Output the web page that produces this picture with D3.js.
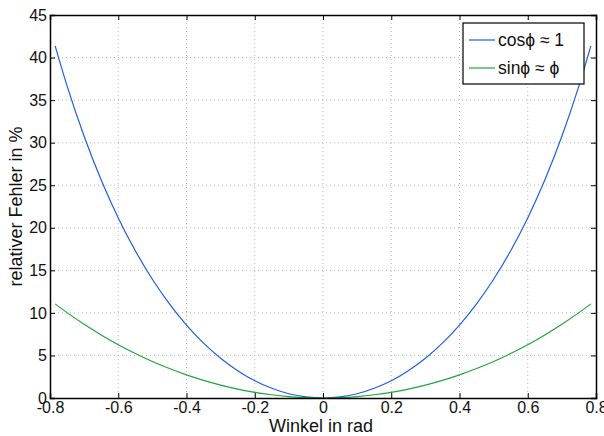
<!DOCTYPE html>
<html>
<head>
<meta charset="utf-8">
<script src="https://cdn.jsdelivr.net/npm/d3@7"></script>
<style>
  html, body { margin: 0; padding: 0; background: #fff; }
  svg { display: block; font-family: "Liberation Sans", Arial, Helvetica, sans-serif; }
</style>
</head>
<body>
<svg id="chart" width="604" height="436"></svg>
<script>
// Angle samples (rad) and relative error in percent for both approximations
const angles = [-0.785, -0.75, -0.7, -0.65, -0.6, -0.55, -0.5, -0.45, -0.4, -0.35, -0.3, -0.25, -0.2, -0.15, -0.1, -0.05, 0,
                 0.05, 0.1, 0.15, 0.2, 0.25, 0.3, 0.35, 0.4, 0.45, 0.5, 0.55, 0.6, 0.65, 0.7, 0.75, 0.785];
const cosError = [41.37, 36.67, 30.75, 25.61, 21.16, 17.30, 13.95, 11.06, 8.57, 6.45, 4.68, 3.21, 2.03, 1.14, 0.50, 0.13, 0,
                  0.13, 0.50, 1.14, 2.03, 3.21, 4.68, 6.45, 8.57, 11.06, 13.95, 17.30, 21.16, 25.61, 30.75, 36.67, 41.37];
const sinError = [11.06, 10.03, 8.66, 7.41, 6.26, 5.23, 4.29, 3.46, 2.72, 2.07, 1.52, 1.05, 0.67, 0.38, 0.17, 0.04, 0,
                  0.04, 0.17, 0.38, 0.67, 1.05, 1.52, 2.07, 2.72, 3.46, 4.29, 5.23, 6.26, 7.41, 8.66, 10.03, 11.06];
const xTicks = [-0.8, -0.6, -0.4, -0.2, 0, 0.2, 0.4, 0.6, 0.8];
const yTicks = [0, 5, 10, 15, 20, 25, 30, 35, 40, 45];
const seriesNames = ["cos\u03d5 \u2248 1", "sin\u03d5 \u2248 \u03d5"];
const seriesColors = ["#1f5fe0", "#1ea63c"];

const svg = d3.select("#chart");
const m = { left: 50, top: 15, right: 596, bottom: 398 };

const x = d3.scaleLinear().domain([-0.8, 0.8]).range([m.left, m.right]);
const y = d3.scaleLinear().domain([0, 45]).range([m.bottom, m.top]);

// dotted grid
const grid = svg.append("g");
grid.selectAll(".gx").data(xTicks.slice(1, -1)).join("line")
  .attr("x1", d => x(d)).attr("x2", d => x(d))
  .attr("y1", m.top).attr("y2", m.bottom)
  .attr("stroke", "#b8b8b8").attr("stroke-width", 1).attr("stroke-dasharray", "1,3");
grid.selectAll(".gy").data(yTicks.slice(1, -1)).join("line")
  .attr("x1", m.left).attr("x2", m.right)
  .attr("y1", d => y(d)).attr("y2", d => y(d))
  .attr("stroke", "#b8b8b8").attr("stroke-width", 1).attr("stroke-dasharray", "1,3");

// curves
const line = d3.line().x(d => x(d[0])).y(d => y(d[1])).curve(d3.curveMonotoneX);
[cosError, sinError].forEach((vals, i) => {
  svg.append("path")
    .datum(angles.map((a, k) => [a, vals[k]]))
    .attr("fill", "none")
    .attr("stroke", seriesColors[i])
    .attr("stroke-width", 1.2)
    .attr("d", line);
});

// axes with inward ticks on all four sides; plain hyphen for negatives
const fmt = d => String(d);
const axB = svg.append("g").attr("transform", `translate(0,${m.bottom})`)
  .call(d3.axisBottom(x).tickValues(xTicks).tickSize(-5).tickPadding(3).tickFormat(fmt));
const axT = svg.append("g").attr("transform", `translate(0,${m.top})`)
  .call(d3.axisTop(x).tickValues(xTicks).tickSize(-5).tickFormat(""));
const axL = svg.append("g").attr("transform", `translate(${m.left},0)`)
  .call(d3.axisLeft(y).tickValues(yTicks).tickSize(-5).tickPadding(3).tickFormat(fmt));
const axR = svg.append("g").attr("transform", `translate(${m.right},0)`)
  .call(d3.axisRight(y).tickValues(yTicks).tickSize(-5).tickFormat(""));
[axB, axT, axL, axR].forEach(g => {
  g.select(".domain").attr("stroke", "#000").attr("stroke-width", 1.5);
  g.selectAll(".tick line").attr("stroke", "#000");
  g.selectAll("text").attr("font-size", 16).attr("fill", "#111")
    .attr("font-family", "'Liberation Sans', Arial, sans-serif");
});
axB.selectAll("text").attr("dy", "0.72em");

// axis titles
svg.append("text").attr("x", (m.left + m.right) / 2 - 2).attr("y", 432)
  .attr("text-anchor", "middle").attr("font-size", 18).attr("fill", "#111")
  .text("Winkel in rad");
svg.append("text")
  .attr("transform", `translate(22,${(m.top + m.bottom) / 2}) rotate(-90)`)
  .attr("text-anchor", "middle").attr("font-size", 18).attr("fill", "#111")
  .text("relativer Fehler in %");

// legend
const lg = svg.append("g");
lg.append("rect").attr("x", 463).attr("y", 23).attr("width", 121).attr("height", 61)
  .attr("fill", "#fff").attr("stroke", "#000").attr("stroke-width", 1.2);
seriesNames.forEach((name, i) => {
  const yy = 40 + i * 28;
  lg.append("line").attr("x1", 469).attr("x2", 495).attr("y1", yy).attr("y2", yy)
    .attr("stroke", seriesColors[i]).attr("stroke-width", 1.2);
  lg.append("text").attr("x", 498).attr("y", yy).attr("dy", "0.36em")
    .attr("font-size", 17.5).attr("fill", "#111").text(name);
});
</script>
</body>
</html>
